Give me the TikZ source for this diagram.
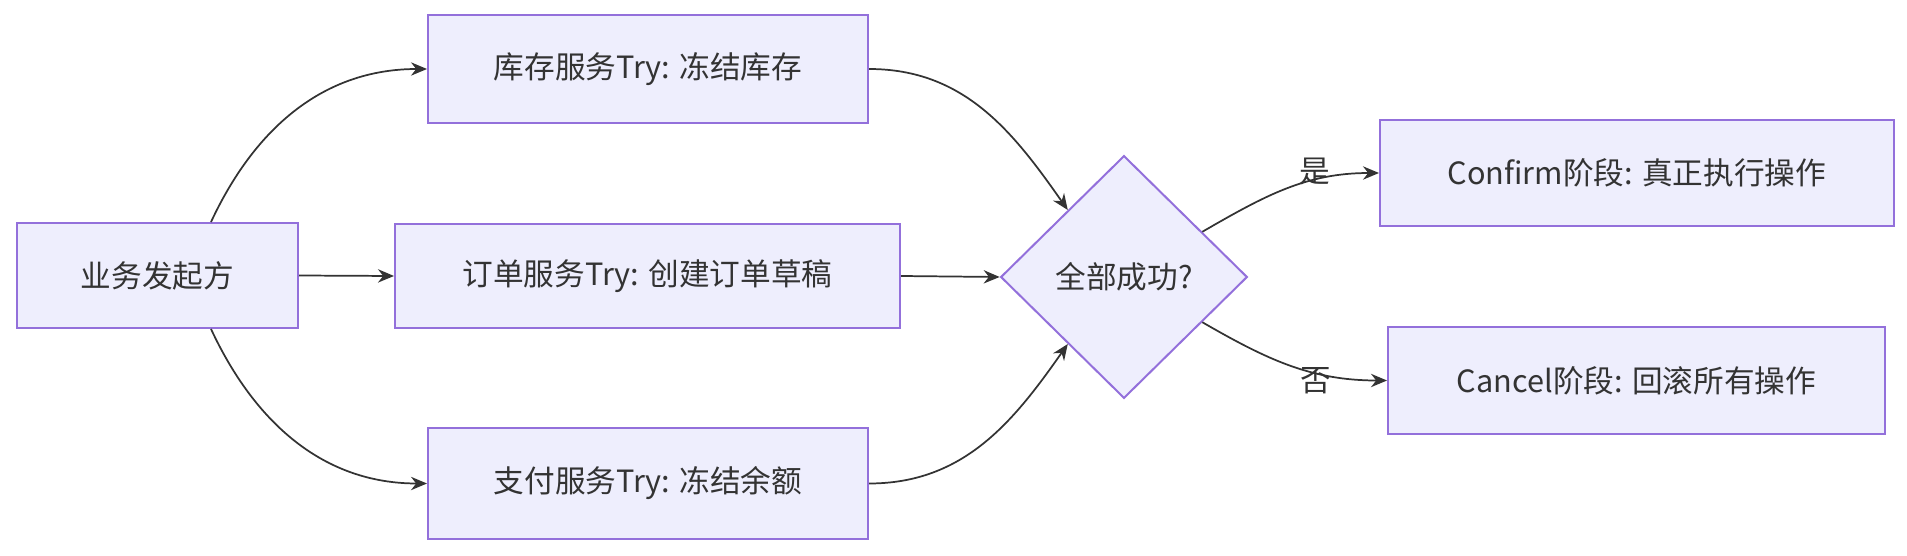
\documentclass[tikz,border=0pt]{standalone}
\usepackage{fontspec}
\setmainfont{Noto Sans CJK SC}
\usetikzlibrary{shapes.geometric,arrows.meta}
\definecolor{boxline}{HTML}{9370DB}
\definecolor{boxfill}{HTML}{EEEEFD}
\definecolor{ink}{HTML}{333333}

\begin{document}
\begin{tikzpicture}[x=0.75pt,y=-0.75pt,
    box/.style={rectangle, draw=boxline, fill=boxfill, line width=1.5pt, text=ink,
      font=\fontsize{23pt}{27pt}\selectfont},
    decision/.style={box, diamond, aspect=1},
    flow/.style={-{Stealth[length=12pt,width=10pt]}, draw=ink, line width=1.3pt},
    answer/.style={text=ink, font=\fontsize{23pt}{27pt}\selectfont}]
  \useasboundingbox (0,0) rectangle (1907,556);

  \node [box, minimum width=210.75pt, minimum height=78.75pt] (biz) at (157.5,275.5) {业务发起方};
  \node [box, minimum width=330pt, minimum height=81pt] (inv) at (648,69) {库存服务Try: 冻结库存};
  \node [box, minimum width=378.75pt, minimum height=78pt] (order) at (647.5,276) {订单服务Try: 创建订单草稿};
  \node [box, minimum width=330pt, minimum height=83pt] (pay) at (648,483.5) {支付服务Try: 冻结余额};
  \node [decision, minimum width=185pt, minimum height=182pt] (check) at (1124,277) {全部成功?};
  \node [box, minimum width=385.5pt, minimum height=79.5pt] (confirm) at (1637,173) {Confirm阶段: 真正执行操作};
  \node [box, minimum width=372.75pt, minimum height=80pt] (cancel) at (1636.5,380.5) {Cancel阶段: 回滚所有操作};

  \begin{scope}[flow]
    \draw (biz.45) to [out=65, in=180] (inv.west);
    \draw (biz.east) to (order.west);
    \draw (biz.-45) to [out=-65, in=180] (pay.west);
    \draw (inv.east) to [out=0, in=125] (check.130);
    \draw (order.east) to (check.west);
    \draw (pay.east) to [out=0, in=235] (check.230);
    \draw (check.30) to [out=30, in=180] node [pos=0.62, answer, xshift=6pt, yshift=8pt] (yes) {是} (confirm.west);
    \draw (check.-30) to [out=-30, in=180] node [pos=0.62, answer, xshift=3pt, yshift=-7pt] (no) {否} (cancel.west);
  \end{scope}
\end{tikzpicture}
\end{document}
